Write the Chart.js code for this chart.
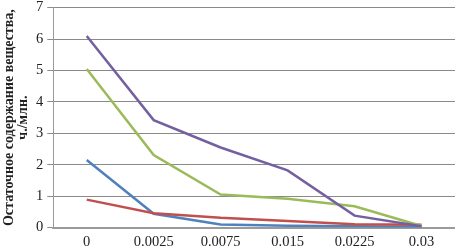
<!doctype html>
<html lang="ru">
<head>
<meta charset="utf-8">
<title>Остаточное содержание</title>
<style>
  html, body { margin: 0; padding: 0; background: #fff; }
</style>
</head>
<body>
<canvas id="grafik" width="455" height="251"></canvas>
<script src="https://cdn.jsdelivr.net/npm/chart.js"></script>
<script>
const categories = ["0", "0.0025", "0.0075", "0.015", "0.0225", "0.03"];
const blueVals   = [2.15, 0.44, 0.10, 0.06, 0.04, 0.02];
const redVals    = [0.89, 0.46, 0.31, 0.21, 0.11, 0.09];
const greenVals  = [5.05, 2.31, 1.05, 0.92, 0.68, 0.05];
const purpleVals = [6.10, 3.42, 2.55, 1.82, 0.38, 0.04];
const yTicks     = [0, 1, 2, 3, 4, 5, 6, 7];
const yTitle     = ["Остаточное содержание вещества,", "ч./млн."];

function serie(data, color, order) {
  return { data: data, borderColor: color, backgroundColor: color,
           borderWidth: 2.5, pointRadius: 0, tension: 0, order: order };
}

new Chart(document.getElementById("grafik"), {
  type: "line",
  data: {
    labels: categories,
    datasets: [
      serie(blueVals, "#4F81BD", 4),
      serie(redVals, "#C0504D", 3),
      serie(greenVals, "#9BBB59", 2),
      serie(purpleVals, "#7460A0", 1)
    ]
  },
  options: {
    responsive: false,
    animation: false,
    devicePixelRatio: 1,
    layout: { padding: { top: 5, right: 0, bottom: -6, left: 2 } },
    plugins: { legend: { display: false }, tooltip: { enabled: false } },
    scales: {
      x: {
        offset: true,
        grid: { display: false, drawTicks: false },
        border: { color: "#9a9a9a", width: 2 },
        ticks: { color: "#222", padding: 6, maxRotation: 0,
                 font: { family: "Liberation Serif", size: 14.5 } }
      },
      y: {
        min: 0, max: 7,
        afterBuildTicks: ax => { ax.ticks = yTicks.map(v => ({ value: v })); },
        grid: { color: "#8a8a8a", lineWidth: 1, drawTicks: true, tickLength: 6 },
        border: { color: "#9a9a9a", width: 1 },
        ticks: { color: "#222", padding: 4,
                 font: { family: "Liberation Serif", size: 14.5, lineHeight: 0.5 } },
        title: { display: true, text: yTitle, color: "#222", padding: { top: 0, bottom: 2 },
                 font: { family: "Liberation Serif", size: 14, weight: "bold", lineHeight: 1.0 } }
      }
    }
  }
});
</script>
</body>
</html>
